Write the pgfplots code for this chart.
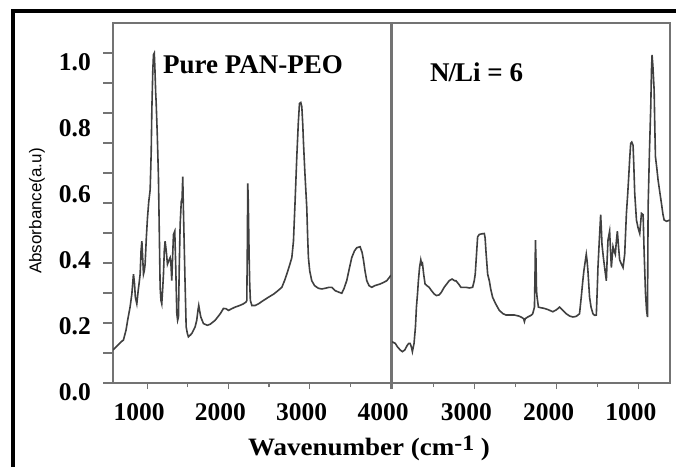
\documentclass[border=0pt]{standalone}
\usepackage{fontspec}
\setmainfont{Liberation Serif}
\newfontfamily\labelsans{Liberation Sans}
\usepackage{graphicx}
\usepackage{pgfplots}
\pgfplotsset{compat=1.18}

\pgfplotstableread{
w A
580 0.10
620 0.11
680 0.125
708 0.13
740 0.16
760 0.19
790 0.23
812 0.27
825 0.31
832 0.33
845 0.30
855 0.26
873 0.24
890 0.28
905 0.31
914 0.33
925 0.40
935 0.43
945 0.38
955 0.33
965 0.34
975 0.36
990 0.44
1004 0.50
1020 0.55
1037 0.585
1050 0.70
1058 0.83
1070 0.95
1078 0.995
1088 1.0
1096 0.95
1105 0.88
1111 0.85
1125 0.75
1139 0.625
1150 0.45
1160 0.29
1170 0.25
1180 0.24
1190 0.28
1201 0.33
1211 0.40
1221 0.43
1235 0.40
1250 0.36
1265 0.37
1283 0.38
1293 0.36
1303 0.31
1313 0.38
1324 0.45
1340 0.46
1352 0.35
1365 0.21
1375 0.19
1385 0.20
1395 0.35
1406 0.48
1420 0.55
1430 0.56
1438 0.625
1446 0.53
1455 0.43
1465 0.32
1480 0.17
1495 0.15
1508 0.14
1530 0.145
1550 0.15
1570 0.16
1590 0.17
1610 0.19
1625 0.22
1635 0.235
1645 0.22
1660 0.20
1693 0.18
1740 0.175
1775 0.178
1836 0.19
1900 0.21
1939 0.226
1970 0.225
2000 0.22
2040 0.225
2082 0.23
2140 0.235
2185 0.24
2215 0.245
2226 0.25
2232 0.40
2238 0.605
2244 0.55
2255 0.38
2262 0.30
2270 0.25
2288 0.235
2330 0.235
2370 0.24
2430 0.25
2493 0.26
2560 0.27
2610 0.28
2657 0.29
2690 0.31
2718 0.33
2750 0.355
2780 0.38
2800 0.43
2820 0.55
2841 0.685
2860 0.79
2874 0.847
2890 0.85
2903 0.837
2915 0.78
2923 0.73
2940 0.64
2964 0.53
2975 0.44
2984 0.38
3000 0.34
3025 0.31
3060 0.295
3107 0.287
3150 0.285
3189 0.287
3240 0.29
3271 0.29
3312 0.28
3360 0.275
3394 0.272
3420 0.285
3455 0.31
3490 0.35
3517 0.38
3550 0.40
3579 0.41
3620 0.413
3645 0.395
3661 0.373
3680 0.34
3702 0.31
3730 0.295
3763 0.29
3800 0.295
3866 0.30
3910 0.305
3948 0.31
3980 0.32
4000 0.327
}\purepanpeo

\pgfplotstableread{
w A
4000 0.125
3960 0.12
3935 0.11
3900 0.10
3874 0.095
3845 0.10
3813 0.115
3795 0.12
3780 0.12
3765 0.11
3752 0.095
3740 0.11
3732 0.12
3715 0.17
3703 0.23
3690 0.27
3679 0.31
3665 0.35
3650 0.373
3640 0.36
3630 0.363
3615 0.33
3598 0.30
3575 0.295
3549 0.29
3520 0.28
3488 0.27
3460 0.265
3427 0.267
3400 0.275
3366 0.29
3335 0.30
3305 0.31
3270 0.315
3240 0.31
3223 0.31
3190 0.30
3162 0.29
3130 0.29
3101 0.29
3060 0.288
3020 0.29
3000 0.31
2988 0.33
2970 0.40
2959 0.443
2939 0.45
2910 0.452
2878 0.453
2868 0.44
2858 0.40
2837 0.33
2817 0.31
2800 0.285
2777 0.26
2740 0.24
2695 0.22
2650 0.21
2613 0.206
2560 0.206
2512 0.206
2460 0.203
2431 0.20
2400 0.195
2390 0.186
2380 0.195
2350 0.20
2310 0.205
2289 0.21
2268 0.23
2260 0.35
2256 0.433
2250 0.38
2243 0.28
2236 0.26
2220 0.23
2190 0.228
2146 0.226
2100 0.222
2045 0.216
2000 0.222
1963 0.23
1930 0.222
1882 0.21
1840 0.203
1801 0.20
1760 0.202
1720 0.21
1699 0.26
1680 0.31
1667 0.34
1650 0.37
1638 0.39
1628 0.37
1618 0.34
1598 0.26
1580 0.23
1557 0.21
1535 0.205
1516 0.206
1505 0.28
1496 0.35
1480 0.43
1463 0.51
1455 0.47
1447 0.42
1430 0.38
1415 0.35
1394 0.31
1385 0.37
1374 0.433
1354 0.46
1343 0.40
1333 0.35
1313 0.413
1300 0.40
1285 0.39
1272 0.43
1260 0.46
1245 0.41
1232 0.373
1210 0.36
1191 0.35
1171 0.39
1150 0.514
1135 0.57
1122 0.625
1110 0.68
1098 0.726
1085 0.73
1069 0.72
1060 0.66
1049 0.575
1028 0.494
1008 0.47
988 0.453
967 0.514
947 0.51
935 0.40
918 0.272
905 0.22
894 0.20
886 0.534
870 0.70
854 0.837
845 0.95
838 0.994
828 0.96
813 0.888
805 0.78
797 0.686
780 0.65
765 0.615
745 0.58
724 0.544
705 0.51
691 0.494
662 0.49
640 0.492
622 0.494
}\nlisix

\pgfplotsset{
  panel/.style={
    anchor=south west,
    width=278pt, height=360pt, scale only axis,
    ymin=0, ymax=1.0909,
    axis line style={black!55, line width=1.4pt},
    every tick/.style={black!55, line width=1.2pt},
    tick align=outside,
    major tick length=6pt,
    minor tick length=4pt,
    tick label style={font=\fontsize{25.5}{26}\selectfont\bfseries, inner sep=0pt},
    xticklabel style={xshift=-8pt, yshift=-14pt},
    clip=true,
  },
  curve/.style={draw=black!75, line width=1.6pt, mark=none},
}

\begin{document}
\begin{tikzpicture}[x=1pt,y=1pt]
\useasboundingbox (0,0) rectangle (676,467);
\fill[white] (0,0) rectangle (676,467);

\begin{axis}[panel,
  at={(113pt,84pt)},
  xmin=580, xmax=4000,
  xtick={1000,2000,3000,4000},
  xticklabels={1000,2000,3000,4000},
  minor xtick={1500,2500,3500},
  xtick pos=bottom,
  ytick pos=left,
  ytick={0,0.2,0.4,0.6,0.8,1.0},
  yticklabels={0.0,0.2,0.4,0.6,0.8,1.0},
  ytick style={draw=none},
  yticklabel style={xshift=-16pt, yshift=-9pt},
  extra y ticks={0,0.0909,0.1818,0.2727,0.3636,0.4545,0.5455,0.6364,0.7273,0.8182,0.9091,1.0},
  extra y tick labels={},
  extra y tick style={major tick length=10pt, ytick style={draw=black!55, line width=1.2pt}},
]
\addplot[curve] table[x=w, y=A] {\purepanpeo};
\end{axis}

\begin{axis}[panel,
  at={(392pt,84pt)},
  x dir=reverse,
  xmin=620, xmax=4000,
  xtick={1000,2000,3000,4000},
  xticklabels={1000,2000,3000,{}},
  minor xtick={1500,2500,3500},
  xtick pos=bottom,
  ytick=\empty,
]
\addplot[curve] table[x=w, y=A] {\nlisix};
\end{axis}

\draw[line width=3.6pt] (13,0) -- (13,455.7) -- (676,455.7);

\node[anchor=base west, inner sep=0pt, font=\fontsize{27}{28}\selectfont\bfseries] at (163,394) {Pure PAN-PEO};
\node[anchor=base west, inner sep=0pt, font=\fontsize{27}{28}\selectfont\bfseries] at (430,385) {N\kern-1pt/\kern-1pt Li = 6};

\node[anchor=base west, inner sep=0pt, font=\fontsize{25}{26}\selectfont\bfseries] at (248,12) {\scalebox{1.08}[1]{Wavenumber (cm\raisebox{5pt}{\fontsize{22}{22}\selectfont -1} )}};

\node[rotate=90, inner sep=0pt, font=\labelsans\fontsize{17}{18}\selectfont] at (37,256) {Absorbance(a.u)};
\end{tikzpicture}
\end{document}
